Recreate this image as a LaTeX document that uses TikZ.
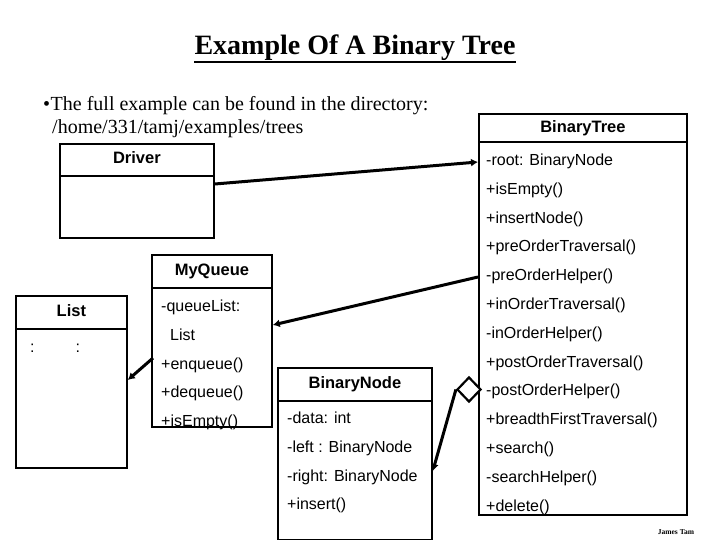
\documentclass[tikz,border=0pt]{standalone}
\usepackage{fontspec}
\setmainfont{Liberation Serif}
\newfontfamily\umlfont{Liberation Sans}
\usepackage{tikz}
\usetikzlibrary{arrows.meta,positioning,shapes.geometric,calc}
\tikzset{
  ubox/.style={draw, line width=1.8pt, anchor=north west, inner sep=0pt},
  uline/.style={line width=1.8pt},
  uhead/.style={font=\umlfont\bfseries\fontsize{16.5}{19}\selectfont, inner sep=0pt, anchor=base},
  umem/.style={font=\umlfont\fontsize{16}{18}\selectfont, inner sep=0pt, anchor=base west},
  nextrow/.style={below=of #1.base west, anchor=base west},
  ptext/.style={font=\fontsize{20}{24}\selectfont, inner sep=0pt, anchor=base west},
  flow/.style={-{Latex[length=7pt,width=8pt]}, line width=3pt},
  agg/.style={diamond, draw, fill=white, line width=2.2pt, minimum width=24pt,
              minimum height=25pt, inner sep=0pt},
}

\begin{document}
\begin{tikzpicture}[x=1pt, y=-1pt, node distance=28.8pt]
  \useasboundingbox (0,0) rectangle (720,540);
  \node[font=\bfseries\fontsize{28}{32}\selectfont, inner sep=0pt, anchor=base] (title) at (355,55) {Example Of A Binary Tree};
  \draw[line width=2pt] ($(title.base west)+(0,7)$) -- ($(title.base east)+(0,7)$);
  \node[ptext] (intro) at (43,111) {\textbullet\hspace{0.5pt}The full example can be found in the directory:};
  \node[ptext] (dir) at (52,134) {/home/331/tamj/examples/trees};

  \node[ubox, minimum width=154pt, minimum height=94pt] (driver) at (59,143) {};
  \draw[uline] ($(driver.north west)+(0,33)$) -- ($(driver.north east)+(0,33)$);
  \node[uhead] (driverh) at ($(driver.north)+(0,21)$) {Driver};

  \node[ubox, minimum width=208pt, minimum height=401pt] (btree) at (478,113) {};
  \draw[uline] ($(btree.north west)+(0,29)$) -- ($(btree.north east)+(0,29)$);
  \node[uhead] (btreeh) at ($(btree.north)+(0,20)$) {BinaryTree};
  \node[umem] (bt1) at (486,165.5) {-root: BinaryNode};
  \node[umem, nextrow=bt1] (bt2) {+isEmpty()};
  \node[umem, nextrow=bt2] (bt3) {+insertNode()};
  \node[umem, nextrow=bt3] (bt4) {+preOrderTraversal()};
  \node[umem, nextrow=bt4] (bt5) {-preOrderHelper()};
  \node[umem, nextrow=bt5] (bt6) {+inOrderTraversal()};
  \node[umem, nextrow=bt6] (bt7) {-inOrderHelper()};
  \node[umem, nextrow=bt7] (bt8) {+postOrderTraversal()};
  \node[umem, nextrow=bt8] (bt9) {-postOrderHelper()};
  \node[umem, nextrow=bt9] (bt10) {+breadthFirstTraversal()};
  \node[umem, nextrow=bt10] (bt11) {+search()};
  \node[umem, nextrow=bt11] (bt12) {-searchHelper()};
  \node[umem, nextrow=bt12] (bt13) {+delete()};

  \node[ubox, minimum width=120pt, minimum height=172pt] (queue) at (151,254) {};
  \draw[uline] ($(queue.north west)+(0,34)$) -- ($(queue.north east)+(0,34)$);
  \node[uhead] (queueh) at ($(queue.north)+(0,21)$) {MyQueue};
  \node[umem] (mq1) at (161,311.5) {-queueList:};
  \node[umem, nextrow=mq1] (mq2) {\hspace*{9pt}List};
  \node[umem, nextrow=mq2] (mq3) {+enqueue()};
  \node[umem, nextrow=mq3] (mq4) {+dequeue()};
  \node[umem, nextrow=mq4] (mq5) {+isEmpty()};

  \node[ubox, minimum width=111pt, minimum height=172pt] (list) at (15,295) {};
  \draw[uline] ($(list.north west)+(0,34)$) -- ($(list.north east)+(0,34)$);
  \node[uhead] (listh) at ($(list.north)+(0,21)$) {List};
  \node[umem] (ls1) at (30,352) {:\hspace{41pt}:};

  \node[ubox, minimum width=154pt, minimum height=172pt] (bnode) at (277,367) {};
  \draw[uline] ($(bnode.north west)+(0,34)$) -- ($(bnode.north east)+(0,34)$);
  \node[uhead] (bnodeh) at ($(bnode.north)+(0,21)$) {BinaryNode};
  \node[umem] (bn1) at (287,423.5) {-data: int};
  \node[umem, nextrow=bn1] (bn2) {-left : BinaryNode};
  \node[umem, nextrow=bn2] (bn3) {-right: BinaryNode};
  \node[umem, nextrow=bn3] (bn4) {+insert()};

  \draw[flow] ($(driver.north east)+(0,41)$) -- ($(btree.north west)+(0,49)$);
  \draw[flow] ($(btree.north west)+(0,164)$) -- ($(queue.north east)+(0,71)$);
  \draw[flow] ($(queue.north west)+(2,104)$) -- ($(list.north east)+(0,85)$);
  \node[agg] (agg) at ($(btree.north west)+(-9,276.5)$) {};
  \draw[flow] (agg.west) -- ($(bnode.north east)+(0,104)$);

  \node[font=\bfseries\fontsize{7.5}{8}\selectfont, inner sep=0pt] (sig) at (676,532) {James Tam};
\end{tikzpicture}
\end{document}
